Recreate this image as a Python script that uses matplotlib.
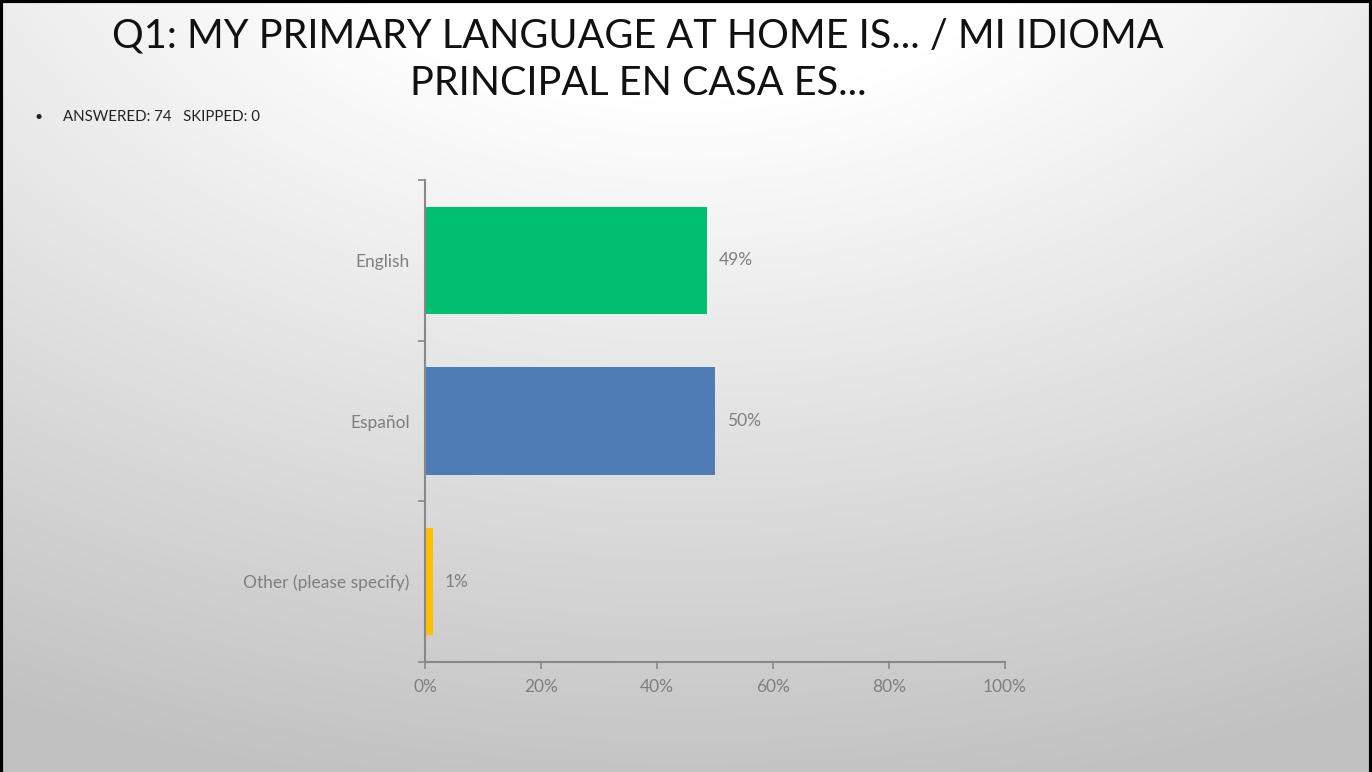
import numpy as np
import matplotlib
matplotlib.use("Agg")
import matplotlib.pyplot as plt
from matplotlib.lines import Line2D

categories = ["English", "Español", "Other (please specify)"]
values = [48.65, 50.0, 1.35]
labels = ["49%", "50%", "1%"]
colors = ["#00BF6F", "#507CB6", "#FFC000"]
xticks = [0, 20, 40, 60, 80, 100]
xticklabels = ["0%", "20%", "40%", "60%", "80%", "100%"]
title = "Q1: MY PRIMARY LANGUAGE AT HOME IS... / MI IDIOMA\nPRINCIPAL EN CASA ES..."
subtitle = "ANSWERED: 74   SKIPPED: 0"

W, H = 1372, 772
fig = plt.figure(figsize=(W / 100, H / 100), dpi=100)

# background gradient
bg = fig.add_axes([0, 0, 1, 1])
yy, xx = np.mgrid[0:H, 0:W]
d = np.sqrt(((xx - 686) / 1.6) ** 2 + (yy + 150) ** 2)
v = 1.0 - 0.24 * np.clip((d - 250) / 700, 0, 1)
img = np.dstack([v, v, v])
bg.imshow(img, extent=[0, W, H, 0], aspect="auto", interpolation="bilinear")
bg.set_xlim(0, W)
bg.set_ylim(H, 0)
bg.axis("off")
# slide border
bg.add_line(Line2D([1, 1], [0, H], color="black", lw=3))
bg.add_line(Line2D([0, W], [1, 1], color="black", lw=3))
bg.add_line(Line2D([W - 1, W - 1], [0, H], color="black", lw=3))

font = "Lato"
fig.text(638 / W, 1 - 60 / H, title, ha="center", va="center", fontsize=28.5,
         family=font, color="#111111", linespacing=1.35)
fig.text(39 / W, 1 - 117 / H, "•", ha="center", va="center", fontsize=10, color="#222222", family=font)
fig.text(63 / W, 1 - 117 / H, subtitle, ha="left", va="center", fontsize=10.8, color="#222222", family=font)

ax = fig.add_axes([425 / W, 1 - 662 / H, 580 / W, 482 / H])
ax.patch.set_alpha(0)
y = np.arange(len(categories))
ax.barh(y, values, height=0.67, color=colors)
ax.set_ylim(len(categories) - 0.5, -0.5)
ax.set_xlim(0, 100)
for yi, val, lab in zip(y, values, labels):
    ax.text(val + 2, yi, lab, va="center", ha="left", fontsize=12.5, color="#7f7f7f", family=font)

ax.set_yticks(y)
ax.set_yticklabels(categories, fontsize=12.5, color="#7f7f7f", family=font)
ax.set_yticks(np.arange(-0.5, len(categories), 1), minor=True)
ax.tick_params(axis="y", which="major", length=0, pad=11)
ax.tick_params(axis="y", which="minor", length=5, color="#888888", width=1.2)
ax.set_xticks(xticks)
ax.set_xticklabels(xticklabels, fontsize=12.5, color="#7f7f7f", family=font)
ax.tick_params(axis="x", length=5, color="#888888", width=1.2, pad=7)
for s in ["top", "right"]:
    ax.spines[s].set_visible(False)
for s in ["left", "bottom"]:
    ax.spines[s].set_color("#888888")
    ax.spines[s].set_linewidth(1.5)

fig.savefig("out.png", dpi=100)
